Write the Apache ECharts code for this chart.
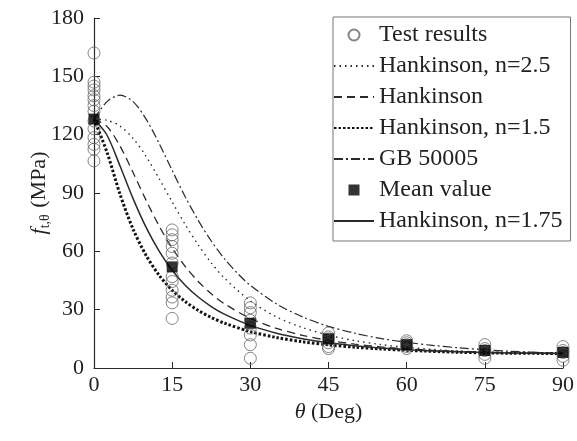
<!DOCTYPE html>
<html>
<head>
<meta charset="utf-8">
<script src="https://cdn.jsdelivr.net/npm/echarts@6/dist/echarts.min.js"></script>
<style>html,body{margin:0;padding:0;background:#fff}#c{width:577px;height:441px}</style>
</head>
<body>
<div id="c"></div>
<script>
// ---- data ----
const theta = [0, 2.5, 5, 7.5, 10, 12.5, 15, 17.5, 20, 22.5, 25, 30, 35, 40, 45, 50, 55, 60, 70, 80, 90];
const hk25  = [128, 127.4, 124.4, 118.1, 108.8, 97.4, 85.4, 73.8, 63.3, 54.1, 46.3, 34.5, 26.3, 20.8, 16.9, 14.1, 12.1, 10.6, 8.7, 7.8, 7.5];
const hk2   = [128, 124.2, 114.1, 100.5, 86.2, 73.0, 61.7, 52.2, 44.5, 38.2, 33.1, 25.5, 20.4, 16.8, 14.2, 12.3, 10.9, 9.8, 8.4, 7.7, 7.5];
const hk15  = [128, 110.9, 89.3, 71.4, 57.9, 47.7, 40.0, 34.2, 29.6, 26.0, 23.1, 18.7, 15.7, 13.5, 11.9, 10.7, 9.8, 9.1, 8.1, 7.6, 7.5];
const gbTheta = [0, 2.5, 5, 7.5, 10, 12.5, 15, 17.5, 20, 22.5, 25, 27.5, 30, 35, 40, 45, 50, 55, 60, 65, 70, 75, 80, 85, 90];
const gb    = [128, 137.0, 140.3, 137.0, 128, 115.5, 101.6, 88.1, 75.9, 65.3, 56.3, 48.8, 42.5, 33.0, 26.3, 21.4, 17.9, 15.2, 13.2, 11.6, 10.4, 9.4, 8.6, 8.0, 7.5];
const hk175 = [128, 119.7, 103.9, 87.1, 72.3, 60.1, 50.3, 42.6, 36.5, 31.6, 27.7, 21.9, 17.9, 15.1, 13.0, 11.5, 10.3, 9.4, 8.3, 7.7, 7.5];

const testAngles = [0, 15, 30, 45, 60, 75, 90];
const test0  = [162, 147, 145, 143, 140, 138, 135, 132, 127, 123, 118.5, 115, 112.5, 106.5];
const test15 = [71, 68.5, 66, 62.5, 59, 54, 47, 44.5, 40, 36.5, 33.5, 25.5];
const test30 = [33.5, 31, 28.5, 24.5, 20.5, 17, 12, 5];
const test45 = [18, 16, 15, 13, 11, 10];
const test60 = [14, 13, 12, 11, 10];
const test75 = [12, 10, 9, 7, 5];
const test90 = [11, 9, 8, 6, 4];
const meanVals = [128, 52, 23, 15, 12, 9, 8];

const xTicks = [0, 15, 30, 45, 60, 75, 90];
const yTicks = [0, 30, 60, 90, 120, 150, 180];

// ---- build ----
const zip = (xs, ys) => xs.map((x, i) => [x, ys[i]]);
const testGroups = [test0, test15, test30, test45, test60, test75, test90];
const testPts = [];
testGroups.forEach((g, i) => g.forEach(v => testPts.push([testAngles[i], v])));

const ink = '#2a2a2a';
const serif = 'Liberation Serif';
const hideSym = {opacity: 0};

const chart = echarts.init(document.getElementById('c'), null, {renderer: 'canvas'});
chart.setOption({
  animation: false,
  backgroundColor: '#fff',
  textStyle: {fontFamily: serif},
  grid: {left: 94, right: 11, top: 18, bottom: 73},
  xAxis: {
    type: 'value', min: xTicks[0], max: xTicks[xTicks.length - 1], interval: 15,
    axisLine: {lineStyle: {color: ink, width: 1.2}},
    axisTick: {inside: true, length: 6, lineStyle: {color: ink}},
    axisLabel: {color: '#222', fontSize: 22, fontFamily: serif, margin: 6},
    splitLine: {show: false},
    name: '{i|θ} (Deg)', nameLocation: 'middle', nameGap: 33,
    nameTextStyle: {color: '#222', fontSize: 22, fontFamily: serif,
      rich: {i: {fontStyle: 'italic', fontSize: 22, fontFamily: serif, color: '#222'}}}
  },
  yAxis: {
    type: 'value', min: yTicks[0], max: yTicks[yTicks.length - 1], interval: 30,
    axisLine: {show: true, lineStyle: {color: ink, width: 1.2}},
    axisTick: {show: true, inside: true, length: 6, lineStyle: {color: ink}},
    axisLabel: {color: '#222', fontSize: 22, fontFamily: serif, margin: 10},
    splitLine: {show: false},
    name: '{i|f}{s|t,θ} (MPa)', nameLocation: 'middle', nameGap: 42,
    nameMoveOverlap: false,
    nameTextStyle: {color: '#222', fontSize: 22, fontFamily: serif,
      rich: {
        i: {fontStyle: 'italic', fontSize: 22, fontFamily: serif, color: '#222'},
        s: {fontSize: 14, fontFamily: serif, color: '#222', padding: [11, 1, 0, 0]}
      }}
  },
  legend: {
    orient: 'vertical', left: 333, top: 17,
    padding: [5, 8, 7, 0],
    borderColor: '#777', borderWidth: 1, backgroundColor: '#fff',
    itemWidth: 40, itemHeight: 11, itemGap: 5,
    textStyle: {fontSize: 24, fontFamily: serif, color: '#222', lineHeight: 26},
    data: [
      {name: 'Test results', icon: 'circle'},
      {name: 'Hankinson, n=2.5', itemStyle: hideSym},
      {name: 'Hankinson', itemStyle: hideSym},
      {name: 'Hankinson, n=1.5', itemStyle: hideSym},
      {name: 'GB 50005', itemStyle: hideSym},
      {name: 'Mean value', icon: 'path://M0,0h10v10h-10z'},
      {name: 'Hankinson, n=1.75', itemStyle: hideSym}
    ]
  },
  series: [
    {name: 'Test results', type: 'scatter', data: testPts, symbol: 'circle', symbolSize: 12, z: 4,
      itemStyle: {color: 'rgba(255,255,255,0)', borderColor: '#666', borderWidth: 1}},
    {name: 'Hankinson, n=2.5', type: 'line', data: zip(theta, hk25), smooth: 0.3, symbol: 'none', z: 2,
      itemStyle: {color: ink}, lineStyle: {color: ink, width: 1.4, type: [1.5, 4]}},
    {name: 'Hankinson', type: 'line', data: zip(theta, hk2), smooth: 0.3, symbol: 'none', z: 2,
      itemStyle: {color: ink}, lineStyle: {color: ink, width: 1.3, type: [8, 5]}},
    {name: 'Hankinson, n=1.5', type: 'line', data: zip(theta, hk15), smooth: 0.3, symbol: 'none', z: 2,
      itemStyle: {color: '#111'}, lineStyle: {color: '#111', width: 3, type: [2.5, 2]}},
    {name: 'GB 50005', type: 'line', data: zip(gbTheta, gb), smooth: 0.3, symbol: 'none', z: 2,
      itemStyle: {color: ink}, lineStyle: {color: ink, width: 1.2, type: [9, 3, 2, 3]}},
    {name: 'Mean value', type: 'scatter', data: zip(testAngles, meanVals), symbol: 'rect', symbolSize: 11, z: 5,
      itemStyle: {color: '#000'}},
    {name: 'Hankinson, n=1.75', type: 'line', data: zip(theta, hk175), smooth: 0.3, symbol: 'none', z: 3,
      itemStyle: {color: ink}, lineStyle: {color: ink, width: 1.5}}
  ]
});
</script>
</body>
</html>
